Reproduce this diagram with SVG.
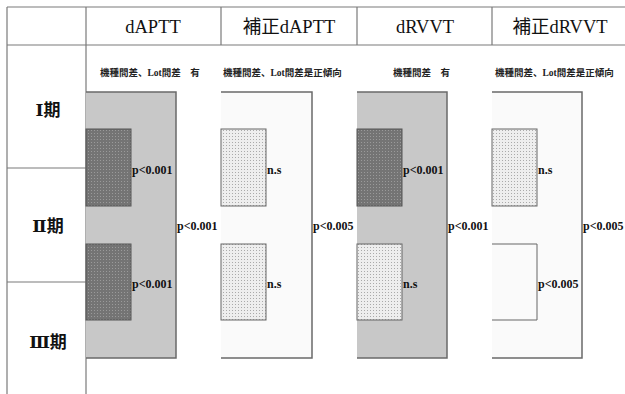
<svg xmlns="http://www.w3.org/2000/svg" width="625" height="394" viewBox="0 0 625 394">
<defs>
<pattern id="darkDots" width="3" height="3" patternUnits="userSpaceOnUse">
<rect width="3" height="3" fill="#747474"/>
<rect x="1" y="1" width="1" height="1" fill="#9a9a9a"/>
</pattern>
<pattern id="lightDots" width="3" height="3" patternUnits="userSpaceOnUse">
<rect width="3" height="3" fill="#eeeeee"/>
<rect x="1" y="1" width="1" height="1" fill="#aaaaaa"/>
</pattern>
</defs>
<style>
.grid{stroke:#7a7a7a;stroke-width:1.2;fill:none}
.hdr{font-family:"Liberation Serif","Noto Sans CJK JP",serif;font-size:18.5px;fill:#111;text-anchor:middle}
.row{font-family:"DejaVu Serif","Noto Sans CJK JP",serif;font-size:17px;font-weight:bold;fill:#111;text-anchor:middle}
.sub{font-family:"Liberation Serif","Noto Sans CJK JP",serif;font-size:9.5px;font-weight:bold;fill:#222}
.p{font-family:"Liberation Serif",serif;font-size:12px;font-weight:bold;fill:#111}
.bigGray{fill:#c8c8c8;stroke:none}
.bigWhite{fill:#fafafa;stroke:none}
.edge{stroke:#6a6a6a;stroke-width:1.5;fill:none}
.dark{fill:url(#darkDots);stroke:#555;stroke-width:1}
.light{fill:url(#lightDots);stroke:#666;stroke-width:1}
.empty{fill:#fafafa;stroke:#666;stroke-width:1}
</style>
<rect width="625" height="394" fill="#ffffff"/>
<g id="table">
<line class="grid" x1="7" y1="7" x2="625" y2="7"/>
<line class="grid" x1="7" y1="45" x2="625" y2="45"/>
<line class="grid" x1="7" y1="7" x2="7" y2="394"/>
<line class="grid" x1="86" y1="7" x2="86" y2="394"/>
<line class="grid" x1="221" y1="7" x2="221" y2="45"/>
<line class="grid" x1="357" y1="7" x2="357" y2="45"/>
<line class="grid" x1="492" y1="7" x2="492" y2="45"/>
<line class="grid" x1="7" y1="168" x2="86" y2="168"/>
<line class="grid" x1="7" y1="282" x2="86" y2="282"/>
<text class="hdr" x="153" y="33">dAPTT</text>
<text class="hdr" x="289" y="33">補正dAPTT</text>
<text class="hdr" x="425" y="33">dRVVT</text>
<text class="hdr" x="560" y="33">補正dRVVT</text>
<text class="row" x="48" y="116">Ⅰ期</text>
<text class="row" x="48" y="232">Ⅱ期</text>
<text class="row" x="48" y="348">Ⅲ期</text>
</g>
<g id="col-dAPTT">
<text class="sub" x="100" y="76">機種間差、Lot間差　有</text>
<rect class="bigGray" x="86" y="92" width="90" height="266"/>
<path class="edge" d="M86 92 H176 V358 H86"/>
<rect class="dark" x="86" y="129" width="45" height="77"/>
<rect class="dark" x="86" y="244" width="45" height="76"/>
<text class="p" x="132" y="174">p&lt;0.001</text>
<text class="p" x="132" y="288">p&lt;0.001</text>
<text class="p" x="177" y="230">p&lt;0.001</text>
</g>
<g id="col-corr-dAPTT">
<text class="sub" x="223" y="76">機種間差、Lot間差是正傾向</text>
<rect class="bigWhite" x="221" y="92" width="91" height="266"/>
<path class="edge" d="M221 92 H312 V358 H221"/>
<rect class="light" x="221" y="129" width="45" height="77"/>
<rect class="light" x="221" y="244" width="45" height="76"/>
<text class="p" x="267" y="174">n.s</text>
<text class="p" x="267" y="288">n.s</text>
<text class="p" x="313" y="230">p&lt;0.005</text>
</g>
<g id="col-dRVVT">
<text class="sub" x="393" y="76">機種間差　有</text>
<rect class="bigGray" x="357" y="92" width="90" height="266"/>
<path class="edge" d="M357 92 H447 V358 H357"/>
<rect class="dark" x="357" y="129" width="45" height="77"/>
<rect class="light" x="357" y="244" width="45" height="76"/>
<text class="p" x="403" y="174">p&lt;0.001</text>
<text class="p" x="403" y="288">n.s</text>
<text class="p" x="448" y="230">p&lt;0.001</text>
</g>
<g id="col-corr-dRVVT">
<text class="sub" x="495" y="76">機種間差、Lot間差是正傾向</text>
<rect class="bigWhite" x="492" y="92" width="90" height="266"/>
<path class="edge" d="M492 92 H582 V358 H492"/>
<rect class="light" x="492" y="129" width="45" height="77"/>
<path class="empty" d="M492 244 H537 V320 H492"/>
<text class="p" x="538" y="174">n.s</text>
<text class="p" x="538" y="288">p&lt;0.005</text>
<text class="p" x="583" y="230">p&lt;0.005</text>
</g>
</svg>
